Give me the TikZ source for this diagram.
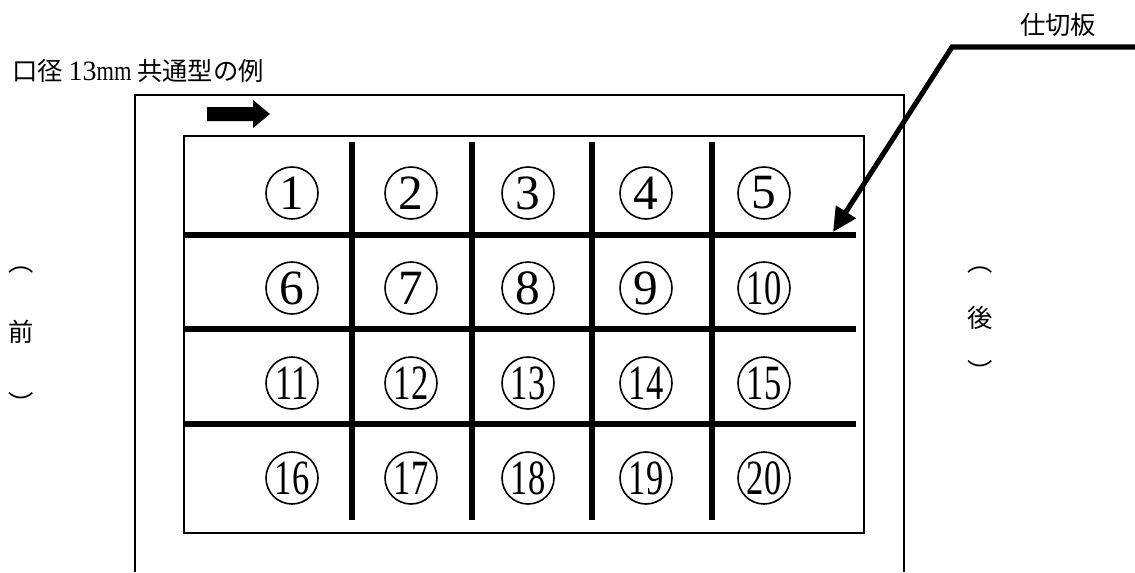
\documentclass[tikz,border=0pt]{standalone}
\usepackage{fontspec}
\newfontfamily\jpfont{Noto Sans CJK JP}
\newfontfamily\numfont{Liberation Serif}
\usetikzlibrary{arrows.meta}
\newcommand{\twodig}[1]{\scalebox{0.7}[1]{#1}}

\begin{document}
\begin{tikzpicture}[x=0.75pt, y=-0.75pt,
  frame/.style={line width=1.2pt},
  plate/.style={line width=5pt},
  cnum/.style={circle, draw, line width=1.2pt, minimum size=39pt,
               inner sep=0pt, font=\numfont\fontsize{37}{37}\selectfont},
  jptext/.style={font=\jpfont\fontsize{19}{19}\selectfont, inner sep=0pt}
]
  \useasboundingbox (0,0) rectangle (1135,572);

  % Title and label
  \node[jptext, anchor=west] (title) at (12,71)
    {口径 {\numfont\fontsize{21}{21}\selectfont 13\scalebox{0.8}[1]{mm}} 共通型の例};
  \node[jptext] (lbl) at (1058,25) {仕切板};

  % Outer frame (open at the bottom)
  \draw[frame] (135,572) -- (135,95) -- (904,95) -- (904,572);
  % Direction arrow
  \fill (207,107) -- (253,107) -- (253,100) -- (270,114)
        -- (253,128) -- (253,121) -- (207,121) -- cycle;

  % Inner box
  \draw[frame] (184,136) rectangle (864,533);

  % Partition plates
  \draw[plate] (352,142) -- (352,520);
  \draw[plate] (472,142) -- (472,520);
  \draw[plate] (592,142) -- (592,520);
  \draw[plate] (712,142) -- (712,520);
  \draw[plate] (184,235) -- (856,235);
  \draw[plate] (184,329) -- (856,329);
  \draw[plate] (184,424) -- (856,424);

  % Row 1
  \node[cnum] (c1) at (292,193) {1};
  \node[cnum] (c2) at (411,193) {2};
  \node[cnum] (c3) at (528,193) {3};
  \node[cnum] (c4) at (646,193) {4};
  \node[cnum] (c5) at (764,193) {5};
  % Row 2
  \node[cnum] (c6) at (292,288) {6};
  \node[cnum] (c7) at (411,288) {7};
  \node[cnum] (c8) at (528,288) {8};
  \node[cnum] (c9) at (646,288) {9};
  \node[cnum] (c10) at (764,288) {\twodig{10}};
  % Row 3
  \node[cnum] (c11) at (292,383) {\twodig{11}};
  \node[cnum] (c12) at (411,383) {\twodig{12}};
  \node[cnum] (c13) at (528,383) {\twodig{13}};
  \node[cnum] (c14) at (646,383) {\twodig{14}};
  \node[cnum] (c15) at (764,383) {\twodig{15}};
  % Row 4
  \node[cnum] (c16) at (292,478) {\twodig{16}};
  \node[cnum] (c17) at (411,478) {\twodig{17}};
  \node[cnum] (c18) at (528,478) {\twodig{18}};
  \node[cnum] (c19) at (646,478) {\twodig{19}};
  \node[cnum] (c20) at (764,478) {\twodig{20}};

  % Leader to the partition plate
  \coordinate (ldr) at (1135,47);
  \coordinate (bend) at (952,47);
  \coordinate (tip) at (833,232);
  \draw[line width=3.8pt, -{Triangle[length=18pt, width=17pt]}]
    (ldr) -- (bend) -- (tip);

  % Front / back
  \node[jptext] (fopen) at (21,270) {︵};
  \node[jptext] (front) at (21,332) {前};
  \node[jptext] (fclose) at (21,403) {︶};
  \node[jptext] (bopen) at (980,270) {︵};
  \node[jptext] (back) at (980,318) {後};
  \node[jptext] (bclose) at (980,371) {︶};
\end{tikzpicture}
\end{document}
